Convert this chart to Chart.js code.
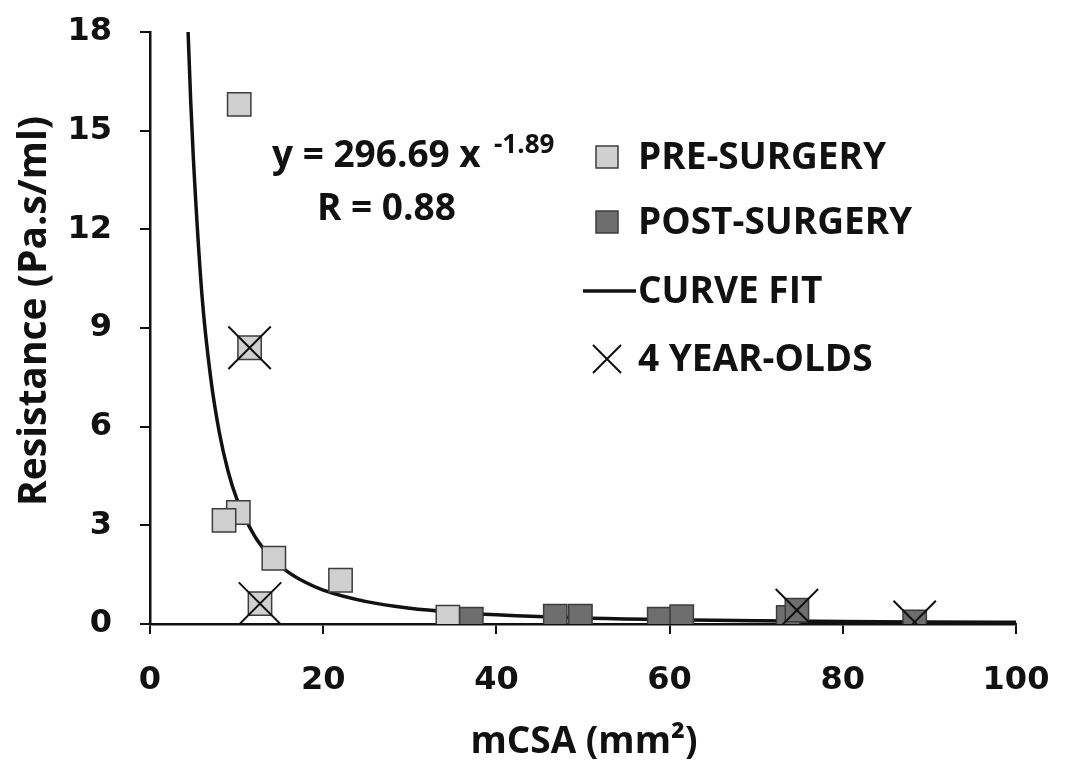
<!DOCTYPE html>
<html>
<head>
<meta charset="utf-8">
<script src="https://cdn.jsdelivr.net/npm/chart.js@4.4.1/dist/chart.umd.min.js"></script>
<style>
  html, body { margin: 0; padding: 0; background: #fff; }
  #wrap { width: 1065px; height: 769px; }
</style>
</head>
<body>
<div id="wrap"><canvas id="c" width="1065" height="769"></canvas></div>
<script>
// ── Data ───────────────────────────────────────────────────────────────────
const preX  = [10.3, 10.2, 8.55, 14.3, 22.0, 34.4, 11.5, 12.7];
const preY  = [15.8, 3.39, 3.15, 2.0, 1.33, 0.21, 8.4, 0.62];

const postX = [37.1, 46.8, 49.7, 58.8, 61.4, 73.7, 74.7, 88.3];
const postY = [0.15, 0.24, 0.24, 0.15, 0.22, 0.20, 0.42, 0.06];

const kidsX = [11.5, 12.7, 74.7, 88.3];
const kidsY = [8.4, 0.62, 0.42, 0.06];

// curve fit, sampled along the drawn line
const curveX = [4.4, 4.7, 5, 6, 7, 8, 9, 10, 12, 14, 16, 18, 20, 25, 30, 35, 40, 50, 60, 70, 80, 90, 100];
const curveY = [18.0, 15.9, 14.2, 10.0, 7.5, 5.83, 4.66, 3.82, 2.71, 2.02, 1.57, 1.26, 1.03, 0.68, 0.48, 0.36, 0.28, 0.18, 0.13, 0.10, 0.075, 0.06, 0.05];

const xTicks = [0, 20, 40, 60, 80, 100];
const yTicks = [0, 3, 6, 9, 12, 15, 18];

const legendItems = ['PRE-SURGERY', 'POST-SURGERY', 'CURVE FIT', '4 YEAR-OLDS'];

const TEXT_FONT = '"Open Sans", "DejaVu Sans", sans-serif';
const TICK_FONT = '"DejaVu Sans", sans-serif';
const INK = '#111';
const PRE_FILL = '#d0d0d0';
const POST_FILL = '#6e6e6e';
const EDGE = '#3c3c3c';

const pts = (xs, ys) => xs.map((x, i) => ({ x, y: ys[i] }));

// ── Labels, equation and legend drawn on top ───────────────────────────────
const annotate = {
  id: 'annotate',
  afterDraw(chart) {
    const ctx = chart.ctx;
    ctx.save();
    ctx.fillStyle = INK;
    ctx.textAlign = 'left';
    ctx.textBaseline = 'alphabetic';

    // equation
    ctx.font = `bold 37px ${TEXT_FONT}`;
    ctx.fillText('y = 296.69 x', 272, 167);
    ctx.fillText('R = 0.88', 317, 220);
    ctx.font = `bold 26px ${TEXT_FONT}`;
    ctx.fillText('-1.89', 494, 153);

    // axis titles
    ctx.font = `bold 37px ${TEXT_FONT}`;
    ctx.textAlign = 'center';
    ctx.textBaseline = 'middle';
    ctx.fillText('mCSA (mm\u00B2)', 584, 742);
    ctx.save();
    ctx.translate(35, 311);
    ctx.rotate(-Math.PI / 2);
    ctx.font = `bold 39px ${TEXT_FONT}`;
    ctx.fillText('Resistance (Pa.s/ml)', 0, 0);
    ctx.restore();

    // legend
    const lx = 607, tx = 638;
    const ly = [157, 222, 291, 359];
    ctx.lineWidth = 1.5;
    ctx.strokeStyle = EDGE;
    ctx.fillStyle = PRE_FILL;
    ctx.fillRect(lx - 11, ly[0] - 11, 22, 22);
    ctx.strokeRect(lx - 11, ly[0] - 11, 22, 22);
    ctx.fillStyle = POST_FILL;
    ctx.fillRect(lx - 11, ly[1] - 11, 22, 22);
    ctx.strokeRect(lx - 11, ly[1] - 11, 22, 22);
    ctx.strokeStyle = INK;
    ctx.lineWidth = 3.5;
    ctx.beginPath();
    ctx.moveTo(583, ly[2]); ctx.lineTo(636, ly[2]);
    ctx.stroke();
    ctx.lineWidth = 2;
    ctx.beginPath();
    ctx.moveTo(lx - 14, ly[3] - 14); ctx.lineTo(lx + 14, ly[3] + 14);
    ctx.moveTo(lx + 14, ly[3] - 14); ctx.lineTo(lx - 14, ly[3] + 14);
    ctx.stroke();

    ctx.fillStyle = INK;
    ctx.font = `bold 37px ${TEXT_FONT}`;
    ctx.textAlign = 'left';
    ctx.textBaseline = 'middle';
    legendItems.forEach((t, i) => ctx.fillText(t, tx, ly[i] + 1));
    ctx.restore();
  }
};

// ── Chart ───────────────────────────────────────────────────────────────────
new Chart(document.getElementById('c'), {
  type: 'scatter',
  data: {
    datasets: [
      {
        label: 'CURVE FIT',
        data: pts(curveX, curveY),
        showLine: true,
        borderColor: INK,
        borderWidth: 3.5,
        pointRadius: 0,
        cubicInterpolationMode: 'monotone',
        order: 3
      },
      {
        label: 'PRE-SURGERY',
        data: pts(preX, preY),
        pointStyle: 'rect',
        pointRadius: 16.5,
        backgroundColor: PRE_FILL,
        borderColor: EDGE,
        borderWidth: 1.5,
        order: 2
      },
      {
        label: 'POST-SURGERY',
        data: pts(postX, postY),
        pointStyle: 'rect',
        pointRadius: 16.5,
        backgroundColor: POST_FILL,
        borderColor: EDGE,
        borderWidth: 1.5,
        order: 1
      },
      {
        label: '4 YEAR-OLDS',
        data: pts(kidsX, kidsY),
        pointStyle: 'crossRot',
        pointRadius: 30,
        borderColor: INK,
        borderWidth: 2,
        order: 0
      }
    ]
  },
  options: {
    responsive: false,
    animation: false,
    layout: { padding: { left: 0, top: 28, right: 49, bottom: 0 } },
    plugins: { legend: { display: false }, tooltip: { enabled: false } },
    scales: {
      x: {
        type: 'linear',
        min: 0, max: 100,
        afterBuildTicks: s => { s.ticks = xTicks.map(v => ({ value: v })); },
        afterFit: s => { s.height = 145; s.paddingLeft = 0; s.paddingRight = 0; },
        ticks: { color: INK, font: { family: TICK_FONT, size: 32, weight: 'bold' }, padding: 27, maxRotation: 0 },
        grid: { drawOnChartArea: false, drawTicks: true, tickLength: 10, color: INK, lineWidth: 2 },
        border: { display: true, color: INK, width: 2.5 }
      },
      y: {
        type: 'linear',
        min: 0, max: 18,
        afterBuildTicks: s => { s.ticks = yTicks.map(v => ({ value: v })); },
        afterFit: s => { s.width = 150; s.paddingTop = 0; s.paddingBottom = 0; },
        ticks: { color: INK, font: { family: TICK_FONT, size: 32, weight: 'bold' }, padding: 28 },
        grid: { drawOnChartArea: false, drawTicks: true, tickLength: 10, color: INK, lineWidth: 2 },
        border: { display: true, color: INK, width: 2.5 }
      }
    }
  },
  plugins: [annotate]
});
</script>
</body>
</html>
